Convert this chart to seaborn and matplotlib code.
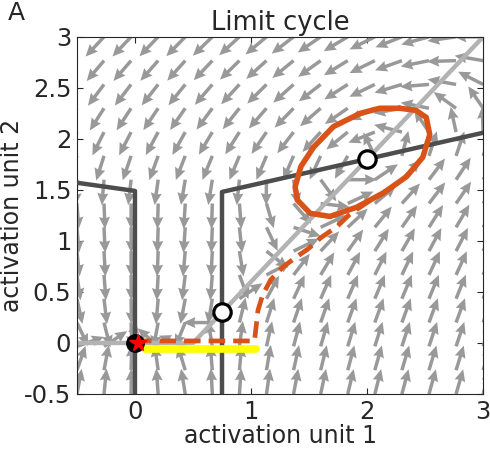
import numpy as np
import matplotlib
matplotlib.use("Agg")
import matplotlib.pyplot as plt
import seaborn as sns

sns.set_theme(style="white")
plt.rcParams['font.family'] = ['DejaVu Sans']

# nullclines
xnull_left_x = [-0.5, 0.0, 0.0]
xnull_left_y = [1.57, 1.49, -0.5]
xnull_right_x = [0.75, 0.75, 3.0]
xnull_right_y = [-0.5, 1.48, 2.06]
ynull_x = [-0.5, 0.5, 3.0]
ynull_y = [0.0, 0.0, 3.0]

# limit cycle and trajectory
cycle_x = [2.28, 2.42, 2.51, 2.54, 2.48, 2.34, 2.14, 1.91, 1.68, 1.51, 1.40, 1.38, 1.43, 1.54, 1.71, 1.94, 2.11, 2.28]
cycle_y = [2.30, 2.28, 2.21, 2.04, 1.82, 1.63, 1.47, 1.33, 1.24, 1.27, 1.40, 1.53, 1.73, 1.92, 2.12, 2.25, 2.30, 2.30]
traj_x = [0.0, 1.03, 1.04, 1.06, 1.10, 1.17, 1.28, 1.40, 1.49, 1.60, 1.74, 1.85, 2.03, 2.14]
traj_y = [0.02, 0.02, 0.12, 0.32, 0.47, 0.62, 0.75, 0.85, 0.92, 1.03, 1.14, 1.26, 1.40, 1.47]
input_x = [0.085, 1.04]
input_y = [-0.06, -0.06]

# fixed points
stable_x, stable_y = [0.0], [0.0]
unstable_x = [0.75, 2.0]
unstable_y = [0.3, 1.8]
start_x, start_y = [0.03], [0.0]

# threshold-linear model parameters (for the arrow field)
gain_e, theta_e, inh, inh_thr = 3.44, 0.532, 10.0, 1.5
rate_i, slope_i, thr_i = 6.0, 1.2, 0.5
grid = np.linspace(-0.5, 3, 16)

X, Y = np.meshgrid(grid, grid)
U = -X + np.maximum(gain_e * (X - theta_e), 0) - inh * np.maximum(Y - inh_thr, 0)
V = rate_i * (np.maximum(slope_i * (X - thr_i), 0) - Y)
norm = np.hypot(U, V)
norm[norm == 0] = 1
U = 0.25 * U / norm
V = 0.25 * V / norm

fig, ax = plt.subplots(figsize=(4.9, 4.49), dpi=100)
fig.subplots_adjust(left=0.157, right=0.986, bottom=0.1225, top=0.918)

ax.quiver(X, Y, U, V, angles='xy', scale_units='xy', scale=1, color='#999999',
          width=0.0085, headwidth=3.2, headlength=3.5, headaxislength=3.2, zorder=1)

sns.lineplot(x=xnull_left_x, y=xnull_left_y, sort=False, estimator=None, color='#4d4d4d', linewidth=3.2, ax=ax, zorder=3)
sns.lineplot(x=xnull_right_x, y=xnull_right_y, sort=False, estimator=None, color='#4d4d4d', linewidth=3.2, ax=ax, zorder=3)
sns.lineplot(x=ynull_x, y=ynull_y, sort=False, estimator=None, color='#b3b3b3', linewidth=3.2, ax=ax, zorder=2)
sns.lineplot(x=input_x, y=input_y, sort=False, estimator=None, color='#ffff00', linewidth=5.5, ax=ax, zorder=4)
sns.lineplot(x=traj_x, y=traj_y, sort=False, estimator=None, color='#d95319', linewidth=3.4,
             dashes=False, ax=ax, zorder=5)
ax.lines[-1].set_linestyle((0, (3.5, 1.7)))
sns.lineplot(x=cycle_x, y=cycle_y, sort=False, estimator=None, color='#d95319', linewidth=4, ax=ax, zorder=5)

ax.plot(stable_x, stable_y, 'o', color='black', markersize=12.5, zorder=6)
ax.plot(unstable_x, unstable_y, 'o', markerfacecolor='white', markeredgecolor='black', markeredgewidth=2.3, markersize=12.5, zorder=6)
ax.plot(start_x, start_y, '*', color='#ff0000', markersize=13, zorder=7)

ax.set_xlim(-0.5, 3)
ax.set_ylim(-0.5, 3)
ax.set_xticks([0, 1, 2, 3])
ax.set_yticks([-0.5, 0, 0.5, 1, 1.5, 2, 2.5, 3])
ax.set_yticklabels(['-0.5', '0', '0.5', '1', '1.5', '2', '2.5', '3'])
ax.tick_params(direction='in', length=4, width=0.8, color='#262626', labelsize=17.5, labelcolor='#262626',
               top=True, right=True, bottom=True, left=True, pad=4)
for s in ax.spines.values():
    s.set_color('#262626')
    s.set_linewidth(0.8)
ax.set_xlabel('activation unit 1', fontsize=17, color='#262626', labelpad=0)
ax.set_ylabel('activation unit 2', fontsize=17, color='#262626', labelpad=0)
ax.set_title('Limit cycle', fontsize=18.5, color='#262626', pad=5)
fig.text(0.015, 0.972, 'A', fontsize=18, color='#262626', va='center')

fig.savefig('out.png', dpi=100)
